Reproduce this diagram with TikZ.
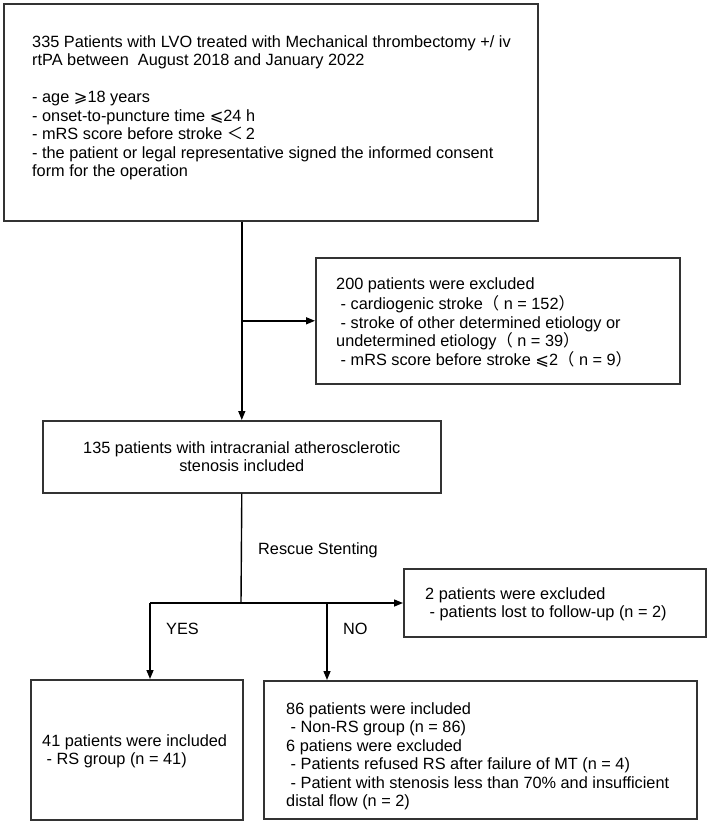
\documentclass[tikz,border=0pt]{standalone}
\usepackage{fontspec}
\setmainfont{Liberation Sans}
\newfontfamily\cjkf{Noto Sans CJK SC}
\newfontfamily\djvf{DejaVu Sans}
\usetikzlibrary{arrows.meta}
\newcommand{\geqsl}{{\djvf ⩾}}
\newcommand{\leqsl}{{\djvf ⩽}}
\newcommand{\fwl}{{\cjkf （}}
\newcommand{\fwr}{{\cjkf ）}}
\newcommand{\fwlt}{{\cjkf ＜}}
\begin{document}
\begin{tikzpicture}[x=1pt,y=-1pt,
  box/.style={draw=black!80,line width=1.6pt,rectangle,anchor=north west,inner sep=0pt},
  txt/.style={anchor=north west,inner sep=0pt,align=left,font=\fontsize{16.3}{18.5}\selectfont},
  lbl/.style={anchor=base west,inner sep=0pt,font=\fontsize{16.3}{18.5}\selectfont},
  conn/.style={line width=1.4pt,black},
  arr/.style={conn,-{Triangle[length=9pt,width=7pt]}}]
\useasboundingbox (0,0) rectangle (708,823);
% boxes
\node[box,minimum width=534pt,minimum height=217pt] (b1) at (3,3) {};
\node[box,minimum width=364pt,minimum height=126pt] (b200) at (315,257) {};
\node[box,minimum width=398pt,minimum height=72pt,align=center,font=\fontsize{16.3}{18.5}\selectfont] (b135) at (42,420)
  {135 patients with intracranial atherosclerotic\\stenosis included};
\node[box,minimum width=302pt,minimum height=68pt] (bex) at (403,568) {};
\node[box,minimum width=212pt,minimum height=140pt] (b41) at (30,679) {};
\node[box,minimum width=433pt,minimum height=138pt] (b86) at (263,680) {};
% texts
\node[txt] (t1) at (32,34) {\strut 335 Patients with LVO treated with Mechanical thrombectomy +/ iv\\
rtPA between \ August 2018 and January 2022\\[18.5pt]
- age \geqsl18 years\\
- onset-to-puncture time \leqsl24 h\\
- mRS score before stroke \fwlt\,2\\
- the patient or legal representative signed the informed consent\\
form for the operation};
\node[txt] (t200) at (336,276) {\strut 200 patients were excluded\\
\ - cardiogenic stroke\fwl\ n = 152\fwr\\
\ - stroke of other determined etiology or\\
undetermined etiology\fwl\ n = 39\fwr\\
\ - mRS score before stroke \leqsl2\fwl\ n = 9\fwr};
\node[txt] (tex) at (425,586) {\strut 2 patients were excluded\\
\ - patients lost to follow-up (n = 2)};
\node[txt] (t41) at (42,733) {\strut 41 patients were included\\
\ - RS group (n = 41)};
\node[txt] (t86) at (286,701) {\strut 86 patients were included\\
\ - Non-RS group (n = 86)\\
6 patiens were excluded\\
\ - Patients refused RS after failure of MT (n = 4)\\
\ - Patient with stenosis less than 70\% and insufficient\\
distal flow (n = 2)};
% labels
\node[lbl] (rs) at (258,554) {Rescue Stenting};
\node[lbl] (yes) at (166,634) {YES};
\node[lbl] (no) at (343,634) {NO};
% connectors
\coordinate (j) at (241,603);
\coordinate (jy) at (150,603);
\coordinate (jn) at (327,603);
\draw[arr] (b1.south -| b135.north) -- (b135.north);
\draw[arr] (b200.west -| b135.north) -- (b200.west);
\draw[conn] (b135.south) -- (j);
\draw[arr] (jy) -- (jy -| bex.west);
\draw[arr] (jy) -- (jy |- b41.north);
\draw[arr] (jn) -- (jn |- b86.north);
\end{tikzpicture}
\end{document}
